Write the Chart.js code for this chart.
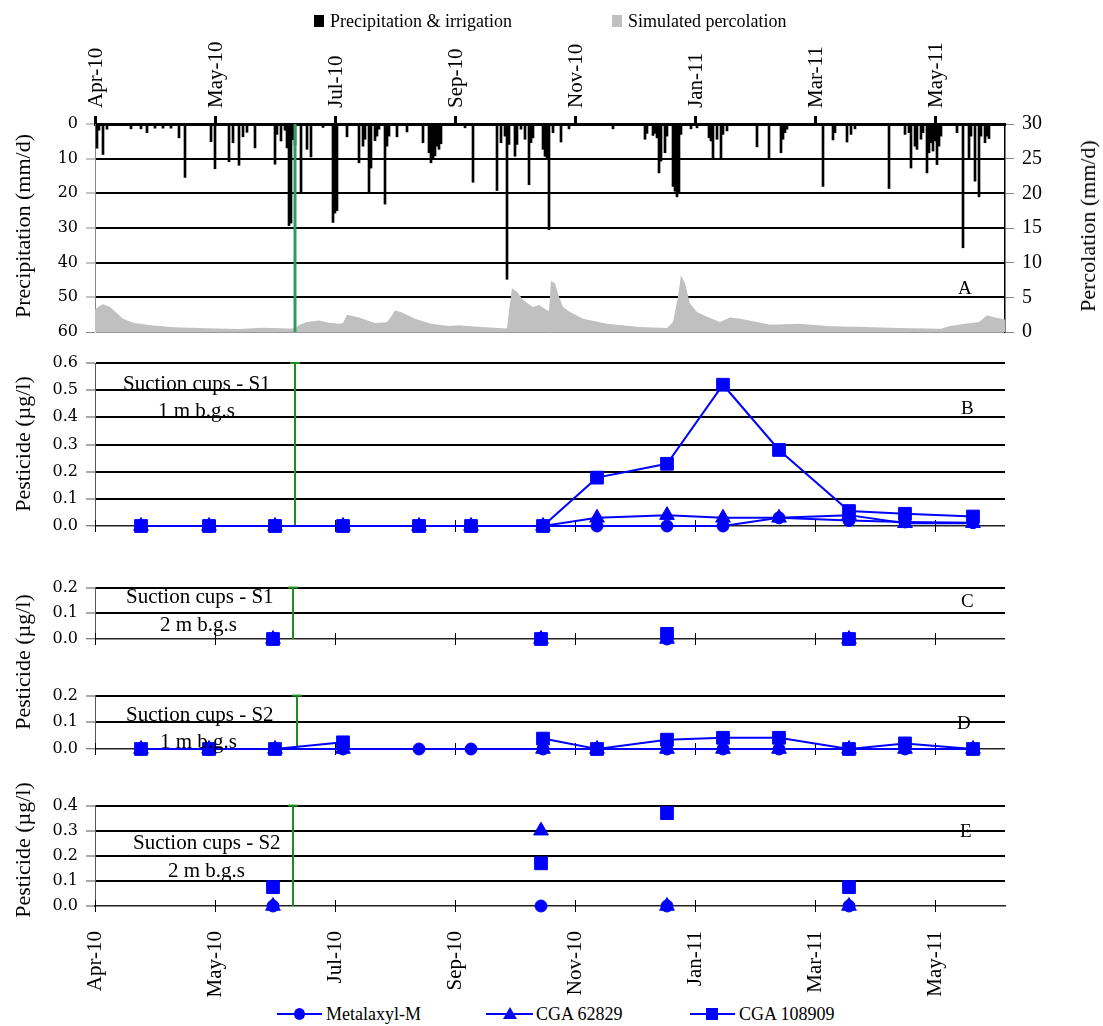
<!DOCTYPE html>
<html>
<head>
<meta charset="utf-8">
<script src="https://cdn.jsdelivr.net/npm/chart.js@4.4.0/dist/chart.umd.min.js"></script>
<style>
  body { margin: 0; background: #fff; }
  #page { position: relative; width: 1103px; height: 1026px; overflow: hidden; font-family: "Liberation Serif", "Times New Roman", serif; color: #000; }
  canvas { position: absolute; left: 0; }
  .t { position: absolute; white-space: nowrap; line-height: 1; z-index: 2; }
  .vt { position: absolute; white-space: nowrap; line-height: 1; font-size: 22px; transform: translate(-50%, -50%) rotate(-90deg); z-index: 2; }
  .sq { position: absolute; width: 10px; height: 12px; }
  .ln { position: absolute; height: 2px; background: #00f; }
  .mk { position: absolute; background: #00f; }
</style>
</head>
<body>
<div id="page">
  <!-- top legend -->
  <div class="sq" style="left:314px;top:15px;background:#000"></div>
  <div class="t" style="left:330px;top:12px;font-size:18px">Precipitation &amp; irrigation</div>
  <div class="sq" style="left:612px;top:15px;background:#c0c0c0"></div>
  <div class="t" style="left:628px;top:12px;font-size:18px">Simulated percolation</div>

  <canvas id="cA" width="1103" height="328" style="top:30px"></canvas>
  <canvas id="cB" width="1103" height="205" style="top:345px"></canvas>
  <canvas id="cC" width="1103" height="93" style="top:570px"></canvas>
  <canvas id="cD" width="1103" height="95" style="top:678px"></canvas>
  <canvas id="cE" width="1103" height="212" style="top:788px"></canvas>

  <!-- axis titles -->
  <div class="vt" style="left:23px;top:226px">Precipitation (mm/d)</div>
  <div class="vt" style="left:1088px;top:226px">Percolation (mm/d)</div>
  <div class="vt" style="left:23px;top:444px">Pesticide (µg/l)</div>
  <div class="vt" style="left:23px;top:662px">Pesticide (µg/l)</div>
  <div class="vt" style="left:23px;top:850px">Pesticide (µg/l)</div>

  <!-- panel notes -->
  <div class="t" style="left:958px;top:278px;font-size:19px">A</div>
  <div class="t" style="left:123px;top:373px;font-size:21px">Suction cups - S1</div>
  <div class="t" style="left:158px;top:400px;font-size:21px">1 m b.g.s</div>
  <div class="t" style="left:961px;top:398px;font-size:19px">B</div>
  <div class="t" style="left:126px;top:586px;font-size:21px">Suction cups - S1</div>
  <div class="t" style="left:160px;top:614px;font-size:21px">2 m b.g.s</div>
  <div class="t" style="left:961px;top:591px;font-size:19px">C</div>
  <div class="t" style="left:126px;top:704px;font-size:21px">Suction cups - S2</div>
  <div class="t" style="left:160px;top:731px;font-size:21px">1 m b.g.s</div>
  <div class="t" style="left:957px;top:713px;font-size:19px">D</div>
  <div class="t" style="left:133px;top:832px;font-size:21px">Suction cups - S2</div>
  <div class="t" style="left:168px;top:860px;font-size:21px">2 m b.g.s</div>
  <div class="t" style="left:960px;top:821px;font-size:19px">E</div>

  <!-- bottom legend -->
  <div class="ln" style="left:277px;top:1013px;width:45px"></div>
  <div class="mk" style="left:294px;top:1008px;width:11px;height:12px;border-radius:50%"></div>
  <div class="t" style="left:326px;top:1005px;font-size:18px">Metalaxyl-M</div>
  <div class="ln" style="left:486px;top:1013px;width:47px"></div>
  <div class="mk" style="left:503px;top:1007px;width:0;height:0;background:none;border-left:7px solid transparent;border-right:7px solid transparent;border-bottom:12px solid #00f"></div>
  <div class="t" style="left:536px;top:1005px;font-size:18px">CGA 62829</div>
  <div class="ln" style="left:690px;top:1013px;width:45px"></div>
  <div class="mk" style="left:706px;top:1008px;width:12px;height:12px"></div>
  <div class="t" style="left:739px;top:1005px;font-size:18px">CGA 108909</div>
</div>

<script>
// time axis: days after 1 April 2010
const tickLabels = ['Apr-10', 'May-10', 'Jul-10', 'Sep-10', 'Nov-10', 'Jan-11', 'Mar-11', 'May-11'];
const tickDays = [0, 60, 120, 180, 240, 300, 360, 420];
const lastDay = 455;

// precipitation & irrigation (mm/d)
const rainDays = [1, 2, 4, 6, 18, 23, 26, 30, 34, 38, 42, 45, 58, 60, 67, 69, 72, 74, 76, 80,
  90, 91, 93, 95, 96, 97, 98, 99, 100, 103, 106, 108, 114, 119, 120, 121, 126, 132, 134, 135,
  137, 138, 140, 141, 142, 145, 146, 147, 151, 156, 164, 167, 168, 169, 170, 171, 172, 173, 185, 189,
  201, 203, 205, 206, 207, 210, 211, 213, 215, 217, 218, 219, 224, 225, 226, 227, 229, 233, 237, 259,
  275, 276, 279, 280, 281, 282, 283, 285, 286, 289, 290, 291, 292, 293, 298, 301, 307, 308, 309, 311,
  313, 314, 316, 331, 337, 343, 344, 345, 346, 364, 369, 370, 376, 378, 380, 397, 405, 407, 408, 410,
  411, 413, 414, 416, 417, 418, 419, 420, 421, 422, 423, 431, 434, 437, 438, 440, 442, 443, 445, 446,
  447];
const rainMm = [7, 1.8, 8.8, 1.5, 1.4, 1.4, 2.5, 1.2, 1.2, 1.2, 4, 15.4, 5.1, 12.9, 10.9, 5.4, 11.9, 3.7, 2.4, 6.9,
  11.6, 3, 4.9, 1.8, 6.9, 29.3, 28.6, 4.5, 6, 19.7, 7.3, 9.5, 1, 28.4, 25.7, 25, 3.7, 11.2, 6.4, 4.4,
  19.7, 12.7, 4.8, 3.5, 1.5, 23.1, 6.4, 3.5, 3.7, 2.3, 5.4, 8.3, 11.2, 10.2, 9.2, 6.4, 7.3, 5.7, 1.1, 16.8,
  19.2, 5.4, 3.5, 44.8, 5.9, 9.3, 5.9, 1.5, 4.4, 17.5, 5.4, 4, 7.3, 9.3, 9.8, 30.5, 2.5, 5.2, 1.4, 1.4,
  4.4, 2.7, 3.3, 2.7, 4, 14.1, 10.7, 8.3, 3.5, 18, 19.4, 21, 19.8, 3, 1.4, 1.1, 4, 4.9, 9.8, 4.4,
  9.8, 3, 2, 6.6, 10, 8.3, 4.4, 2.5, 1.5, 18, 4.6, 2.5, 5.2, 3, 1.4, 18.6, 3, 2.5, 12.7, 6.4,
  7.3, 4.4, 2.5, 14.1, 8.3, 5.4, 7.8, 4.9, 11.7, 6.4, 3.5, 2.5, 35.7, 10, 3.5, 16.5, 21, 3.5, 5.4, 3.5,
  4.2];

// simulated percolation (mm/d)
const percDays = [0, 2, 4, 7.5, 11, 14, 19, 27, 39, 56, 72, 84, 97, 100, 102, 106, 112, 117, 122, 124,
  126, 132, 140, 146, 148, 150, 153, 160, 168, 177, 182, 193, 206, 207, 208.5, 211, 214, 217, 219, 222,
  225, 227, 228, 230, 232, 234, 237.5, 244, 256, 272, 286, 289, 291.5, 293, 295, 297.5, 301, 306, 312.5, 317.5,
  322.5, 331, 337.5, 352, 368, 385, 402, 423, 427, 435, 442, 446, 450, 455];
const percMm = [3.2, 3.7, 4, 3.6, 2.7, 1.9, 1.35, 1, 0.7, 0.53, 0.43, 0.6, 0.5, 0.5, 1, 1.45, 1.65, 1.35, 1.2, 1.3,
  2.5, 2.1, 1.3, 1.4, 2.2, 3.1, 2.9, 1.9, 1.2, 0.87, 0.97, 0.72, 0.5, 3.1, 6.3, 5.8, 4.6, 4, 3.6, 3.9,
  3.3, 3, 7.4, 7, 5.1, 3.6, 2.9, 1.9, 1.2, 0.72, 0.58, 1.45, 5.1, 8.2, 7, 4.1, 2.9, 2.2, 1.45, 2.1,
  1.9, 1.45, 1.06, 1.2, 0.82, 0.72, 0.58, 0.48, 0.82, 1.2, 1.45, 2.4, 2.1, 1.8];

const precipTicks = [0, 10, 20, 30, 40, 50, 60];
const percTicks = [0, 5, 10, 15, 20, 25, 30];

// application date per panel (day)
const applicationDay = [100, 100, 99, 101, 99];

// suction cup samples
const daysShallow = [23, 57, 90, 124, 162, 188, 224, 251, 286, 314, 342, 377, 405, 439];
const daysDeep = [89, 223, 286, 377];

const s1m1Metalaxyl = [0, 0, 0, 0, 0, 0, 0, 0, 0, 0, 0.03, 0.02, 0.015, 0.012];
const s1m1Cga62829 = [0, 0, 0, 0, 0, 0, 0, 0.03, 0.04, 0.03, 0.03, 0.04, 0.01, 0.01];
const s1m1Cga108909 = [0, 0, 0, 0, 0, 0, 0, 0.178, 0.229, 0.52, 0.28, 0.055, 0.045, 0.035];

const s1m2Metalaxyl = [0, 0, 0, 0];
const s1m2Cga62829 = [0, 0, 0, 0];
const s1m2Cga108909 = [0, 0, 0.02, 0];

const s2m1Metalaxyl = [0, 0, 0, 0, 0, 0, 0, 0, 0, 0, 0, 0, 0, 0];
const s2m1Cga62829 = [0, 0, 0, 0, null, null, 0, 0, 0, 0, 0, 0, 0, 0];
const s2m1Cga108909 = [0, 0, 0, 0.025, null, null, 0.039, 0, 0.035, 0.042, 0.042, 0, 0.021, 0];

const s2m2Metalaxyl = [0, 0, 0, 0];
const s2m2Cga62829 = [0, 0.3, 0, 0];
const s2m2Cga108909 = [0.075, 0.17, 0.37, 0.075];

const ticks06 = [0, 0.1, 0.2, 0.3, 0.4, 0.5, 0.6];
const ticks02 = [0, 0.1, 0.2];
const ticks04 = [0, 0.1, 0.2, 0.3, 0.4];

const BLUE = '#0000ff';
const numFont = '"DejaVu Serif", serif';
const textFont = '"Liberation Serif", serif';

const pts = (xs, ys) => xs.map((x, i) => ({ x: x, y: ys[i] }));

// tick marks crossing the zero line (Excel style)
const crossTicks = {
  id: 'crossTicks',
  beforeDatasetsDraw(chart) {
    const { ctx, scales } = chart;
    const y0 = scales.y.getPixelForValue(0);
    ctx.save();
    ctx.strokeStyle = '#000';
    ctx.lineWidth = 1;
    tickDays.forEach(d => {
      const px = Math.round(scales.x.getPixelForValue(d)) + 0.5;
      ctx.beginPath();
      ctx.moveTo(px, y0 - 6);
      ctx.lineTo(px, y0 + 6);
      ctx.stroke();
    });
    ctx.restore();
  }
};

// panel A
new Chart(document.getElementById('cA'), {
  type: 'bar',
  data: {
    datasets: [
      {
        type: 'line', label: 'application', data: [{ x: applicationDay[0], y: 0 }, { x: applicationDay[0], y: 60 }],
        yAxisID: 'y', borderColor: '#2e9b5f', borderWidth: 3, pointRadius: 0, clip: false, order: 0
      },
      {
        type: 'bar', label: 'Precipitation & irrigation', data: pts(rainDays, rainMm),
        yAxisID: 'y', backgroundColor: '#000', borderWidth: 0, barThickness: 2, order: 1
      },
      {
        type: 'line', label: 'Simulated percolation', data: pts(percDays, percMm),
        yAxisID: 'y2', backgroundColor: '#c0c0c0', borderWidth: 0, pointRadius: 0, fill: 'origin', order: 2
      }
    ]
  },
  options: {
    responsive: false, animation: false, events: [],
    layout: { padding: { top: 0, right: 0, bottom: 26, left: 0 }, autoPadding: false },
    plugins: { legend: { display: false }, tooltip: { enabled: false } },
    scales: {
      x: {
        type: 'linear', position: 'top', min: 0, max: lastDay, offset: false,
        afterBuildTicks: s => { s.ticks = tickDays.map(v => ({ value: v })); },
        afterFit: s => { s.height = 94; },
        grid: { drawOnChartArea: false, offset: false, tickLength: 8, tickWidth: 3, tickColor: '#000' },
        border: { color: '#000', width: 3 },
        ticks: {
          autoSkip: false, minRotation: 90, maxRotation: 90, padding: 8, labelOffset: 27, color: '#000',
          font: { family: textFont, size: 21 }, callback: (v, i) => tickLabels[i]
        }
      },
      y: {
        position: 'left', reverse: true, min: 0, max: 60,
        afterBuildTicks: s => { s.ticks = precipTicks.map(v => ({ value: v })); },
        afterFit: s => { s.width = 95; },
        grid: {
          color: c => c.tick && c.tick.value === 60 ? '#999' : '#000',
          lineWidth: c => !c.tick || c.tick.value === 0 ? 0 : (c.tick.value === 60 ? 1 : 2),
          tickColor: '#888', tickWidth: 1, tickLength: 9
        },
        border: { color: '#888', width: 1 },
        ticks: { color: '#000', padding: 8, font: { family: numFont, size: 16 } }
      },
      y2: {
        position: 'right', min: 0, max: 30,
        afterBuildTicks: s => { s.ticks = percTicks.map(v => ({ value: v })); },
        afterFit: s => { s.width = 98; },
        grid: { drawOnChartArea: false, tickColor: '#888', tickWidth: 1, tickLength: 9 },
        border: { color: '#000', width: 1.5 },
        ticks: { color: '#000', padding: 8, font: { family: textFont, size: 20 } }
      }
    }
  }
});

// panels B - E
function pesticidePanel(id, idx, days, met, c62, c108, yMax, yTicks, showLine, padTop, padBottom, withLabels) {
  const series = (label, vals, style, r, order) => ({
    label: label, data: pts(days, vals), borderColor: BLUE, backgroundColor: BLUE,
    borderWidth: 2, pointStyle: style, pointRadius: r, pointBorderWidth: 1,
    showLine: showLine, spanGaps: false, clip: false, order: order
  });
  new Chart(document.getElementById(id), {
    type: 'line',
    data: {
      datasets: [
        series('CGA 108909', c108, 'rect', 9, 1),
        series('CGA 62829', c62, 'triangle', 8.5, 2),
        series('Metalaxyl-M', met, 'circle', 6, 3),
        {
          label: 'application', data: [{ x: applicationDay[idx], y: 0 }, { x: applicationDay[idx], y: yMax }],
          borderColor: '#1e8c1e', borderWidth: 2, pointStyle: 'line', pointRadius: [0, 5],
          pointBorderColor: '#1e8c1e', pointBorderWidth: 2, clip: false, order: 4
        }
      ]
    },
    options: {
      responsive: false, animation: false, events: [],
      layout: { padding: { top: padTop, right: 98, bottom: padBottom, left: 0 }, autoPadding: false },
      plugins: { legend: { display: false }, tooltip: { enabled: false } },
      scales: {
        x: {
          type: 'linear', display: withLabels, min: 0, max: lastDay, offset: false,
          afterBuildTicks: s => { s.ticks = tickDays.map(v => ({ value: v })); },
          afterFit: s => { s.height = withLabels ? 94 : 0; },
          grid: { display: false },
          border: { color: '#222', width: 1.5 },
          ticks: {
            autoSkip: false, minRotation: 90, maxRotation: 90, padding: 17, color: '#000',
            font: { family: textFont, size: 21 }, callback: (v, i) => tickLabels[i]
          }
        },
        y: {
          min: 0, max: yMax,
          afterBuildTicks: s => { s.ticks = yTicks.map(v => ({ value: v })); },
          afterFit: s => { s.width = 95; },
          grid: {
            color: c => c.tick && c.tick.value === 0 ? '#222' : '#000',
            lineWidth: c => c.tick && c.tick.value === 0 ? (withLabels ? 0 : 1.5) : 2,
            tickColor: '#555', tickWidth: 1, tickLength: 9
          },
          border: { color: '#555', width: 1 },
          ticks: { color: '#000', padding: 8, font: { family: numFont, size: 16 }, callback: v => v.toFixed(1) }
        }
      }
    },
    plugins: [crossTicks]
  });
}

pesticidePanel('cB', 1, daysShallow, s1m1Metalaxyl, s1m1Cga62829, s1m1Cga108909, 0.6, ticks06, true, 18, 24, false);
pesticidePanel('cC', 2, daysDeep, s1m2Metalaxyl, s1m2Cga62829, s1m2Cga108909, 0.2, ticks02, false, 14, 24, false);
pesticidePanel('cD', 3, daysShallow, s2m1Metalaxyl, s2m1Cga62829, s2m1Cga108909, 0.2, ticks02, true, 14, 24, false);
pesticidePanel('cE', 4, daysDeep, s2m2Metalaxyl, s2m2Cga62829, s2m2Cga108909, 0.4, ticks04, false, 15, 0, true);
</script>
</body>
</html>
